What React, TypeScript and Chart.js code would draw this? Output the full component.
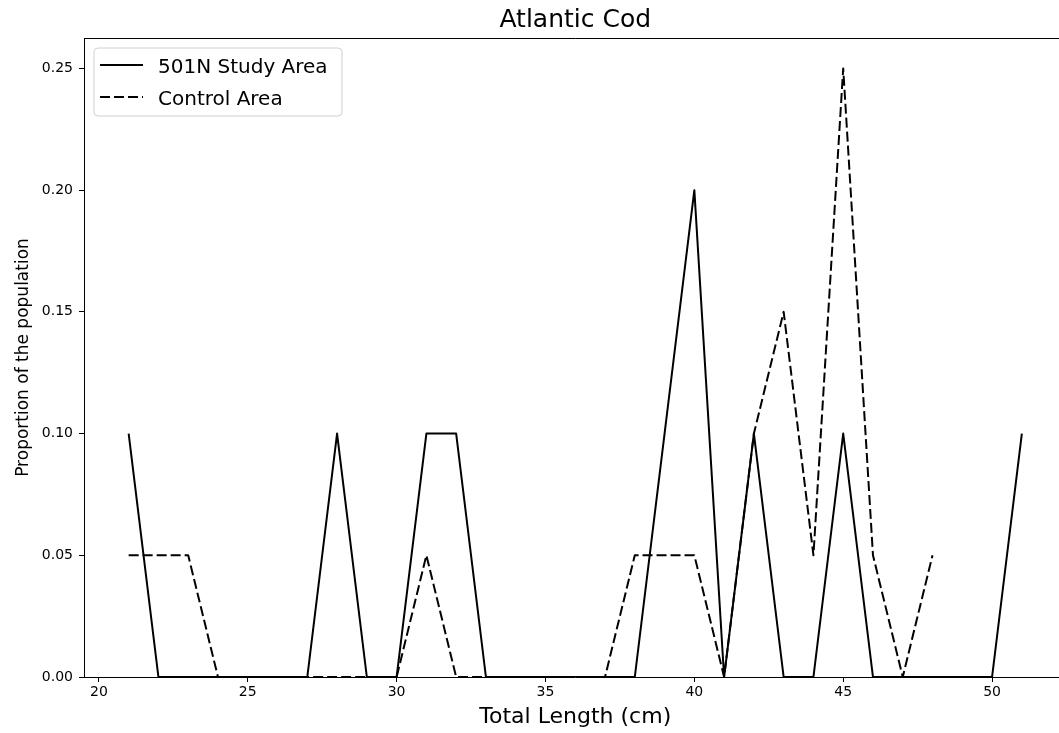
import { useEffect, useRef } from "react";
import { Chart, registerables } from "chart.js";

Chart.register(...registerables);

const chartTitle = "Atlantic Cod";
const xAxisTitle = "Total Length (cm)";
const yAxisTitle = "Proportion of the population";

const studyLengths = [21, 22, 23, 24, 25, 26, 27, 28, 29, 30, 31, 32, 33, 34, 35, 36, 37, 38, 39, 40, 41, 42, 43, 44, 45, 46, 47, 48, 49, 50, 51];
const studyValues = [0.1, 0, 0, 0, 0, 0, 0, 0.1, 0, 0, 0.1, 0.1, 0, 0, 0, 0, 0, 0, 0.1, 0.2, 0, 0.1, 0, 0, 0.1, 0, 0, 0, 0, 0, 0.1];

const controlLengths = [21, 22, 23, 24, 25, 26, 27, 28, 29, 30, 31, 32, 33, 34, 35, 36, 37, 38, 39, 40, 41, 42, 43, 44, 45, 46, 47, 48];
const controlValues = [0.05, 0.05, 0.05, 0, 0, 0, 0, 0, 0, 0, 0.05, 0, 0, 0, 0, 0, 0, 0.05, 0.05, 0.05, 0, 0.1, 0.15, 0.05, 0.25, 0.05, 0, 0.05];

const seriesLabels = ["501N Study Area", "Control Area"];

const xTicks = [20, 25, 30, 35, 40, 45, 50];
const yTicks = [0, 0.05, 0.1, 0.15, 0.2, 0.25];

const FONT = "'DejaVu Sans', sans-serif";
const DASH = [10, 4];

const decorPlugin = {
  id: "decor",
  afterDraw(chart: any) {
    const { ctx, chartArea } = chart;
    const { left, right, top, bottom } = chartArea;
    ctx.save();
    // top and right spines
    ctx.strokeStyle = "#000";
    ctx.lineWidth = 1;
    ctx.beginPath();
    ctx.moveTo(left, top + 0.5);
    ctx.lineTo(right, top + 0.5);
    ctx.moveTo(right - 0.5, top);
    ctx.lineTo(right - 0.5, bottom);
    ctx.stroke();

    // title
    ctx.fillStyle = "#000";
    ctx.font = `25px ${FONT}`;
    ctx.textAlign = "center";
    ctx.textBaseline = "alphabetic";
    ctx.fillText(chartTitle, (left + right) / 2, 27);

    // x title
    ctx.font = `22px ${FONT}`;
    ctx.fillText(xAxisTitle, (left + right) / 2, 723);

    // y title
    ctx.save();
    ctx.translate(28, (top + bottom) / 2);
    ctx.rotate(-Math.PI / 2);
    ctx.font = `17px ${FONT}`;
    ctx.fillText(yAxisTitle, 0, 0);
    ctx.restore();

    // legend
    const bx = 94, by = 48, bw = 248, bh = 68, r = 4;
    ctx.beginPath();
    ctx.moveTo(bx + r, by);
    ctx.lineTo(bx + bw - r, by);
    ctx.arcTo(bx + bw, by, bx + bw, by + r, r);
    ctx.lineTo(bx + bw, by + bh - r);
    ctx.arcTo(bx + bw, by + bh, bx + bw - r, by + bh, r);
    ctx.lineTo(bx + r, by + bh);
    ctx.arcTo(bx, by + bh, bx, by + bh - r, r);
    ctx.lineTo(bx, by + r);
    ctx.arcTo(bx, by, bx + r, by, r);
    ctx.closePath();
    ctx.fillStyle = "rgba(255,255,255,0.8)";
    ctx.fill();
    ctx.strokeStyle = "#d0d0d0";
    ctx.lineWidth = 1;
    ctx.stroke();

    const rows = [65, 97];
    chart.data.datasets.forEach((ds: any, i: number) => {
      const y = rows[i];
      ctx.beginPath();
      ctx.setLineDash(ds.borderDash || []);
      ctx.strokeStyle = ds.borderColor;
      ctx.lineWidth = ds.borderWidth;
      ctx.moveTo(100, y);
      ctx.lineTo(143, y);
      ctx.stroke();
      ctx.setLineDash([]);
      ctx.fillStyle = "#000";
      ctx.font = `20px ${FONT}`;
      ctx.textAlign = "left";
      ctx.textBaseline = "alphabetic";
      ctx.fillText(ds.label, 158, y + 8);
    });
    ctx.restore();
  },
};

export default function App() {
  const ref = useRef<HTMLCanvasElement | null>(null);

  useEffect(() => {
    document.body.style.margin = "0";
    const canvas = ref.current;
    if (!canvas) return;
    const chart = new Chart(canvas, {
      type: "line",
      data: {
        datasets: [
          {
            label: seriesLabels[0],
            data: studyLengths.map((x, i) => ({ x, y: studyValues[i] })),
            borderColor: "#000",
            borderWidth: 2,
            borderJoinStyle: "round",
            pointRadius: 0,
            tension: 0,
            fill: false,
          },
          {
            label: seriesLabels[1],
            data: controlLengths.map((x, i) => ({ x, y: controlValues[i] })),
            borderColor: "#000",
            borderWidth: 2,
            borderDash: DASH,
            borderJoinStyle: "round",
            pointRadius: 0,
            tension: 0,
            fill: false,
          },
        ],
      },
      options: {
        animation: false,
        responsive: false,
        devicePixelRatio: 1,
        layout: { padding: { left: 0, top: 38, right: 13.5, bottom: 0 } },
        plugins: { legend: { display: false }, tooltip: { enabled: false }, title: { display: false } },
        scales: {
          x: {
            type: "linear",
            min: 19.5,
            max: 52.5,
            afterFit: (s: any) => { s.height = 56; },
            afterBuildTicks: (s: any) => { s.ticks = xTicks.map((v) => ({ value: v })); },
            grid: { drawOnChartArea: false, drawTicks: true, tickLength: 5, tickColor: "#000", color: "#000" },
            border: { display: true, color: "#000", width: 1 },
            ticks: {
              color: "#000",
              padding: 2,
              font: { family: FONT, size: 14 },
              maxRotation: 0,
              callback: (v: any) => String(v),
            },
          },
          y: {
            type: "linear",
            min: 0,
            max: 0.2625,
            afterFit: (s: any) => { s.width = 84; },
            afterBuildTicks: (s: any) => { s.ticks = yTicks.map((v) => ({ value: v })); },
            grid: { drawOnChartArea: false, drawTicks: true, tickLength: 5, tickColor: "#000", color: "#000" },
            border: { display: true, color: "#000", width: 1 },
            ticks: {
              color: "#000",
              padding: 6,
              font: { family: FONT, size: 14 },
              callback: (v: any) => Number(v).toFixed(2),
            },
          },
        },
      },
      plugins: [decorPlugin],
    });
    return () => chart.destroy();
  }, []);

  return (
    <div style={{ position: "absolute", left: 0, top: 0, width: 1059, height: 733, overflow: "hidden", background: "#fff" }}>
      <canvas ref={ref} width={1080} height={733} style={{ width: 1080, height: 733, display: "block" }} />
    </div>
  );
}
